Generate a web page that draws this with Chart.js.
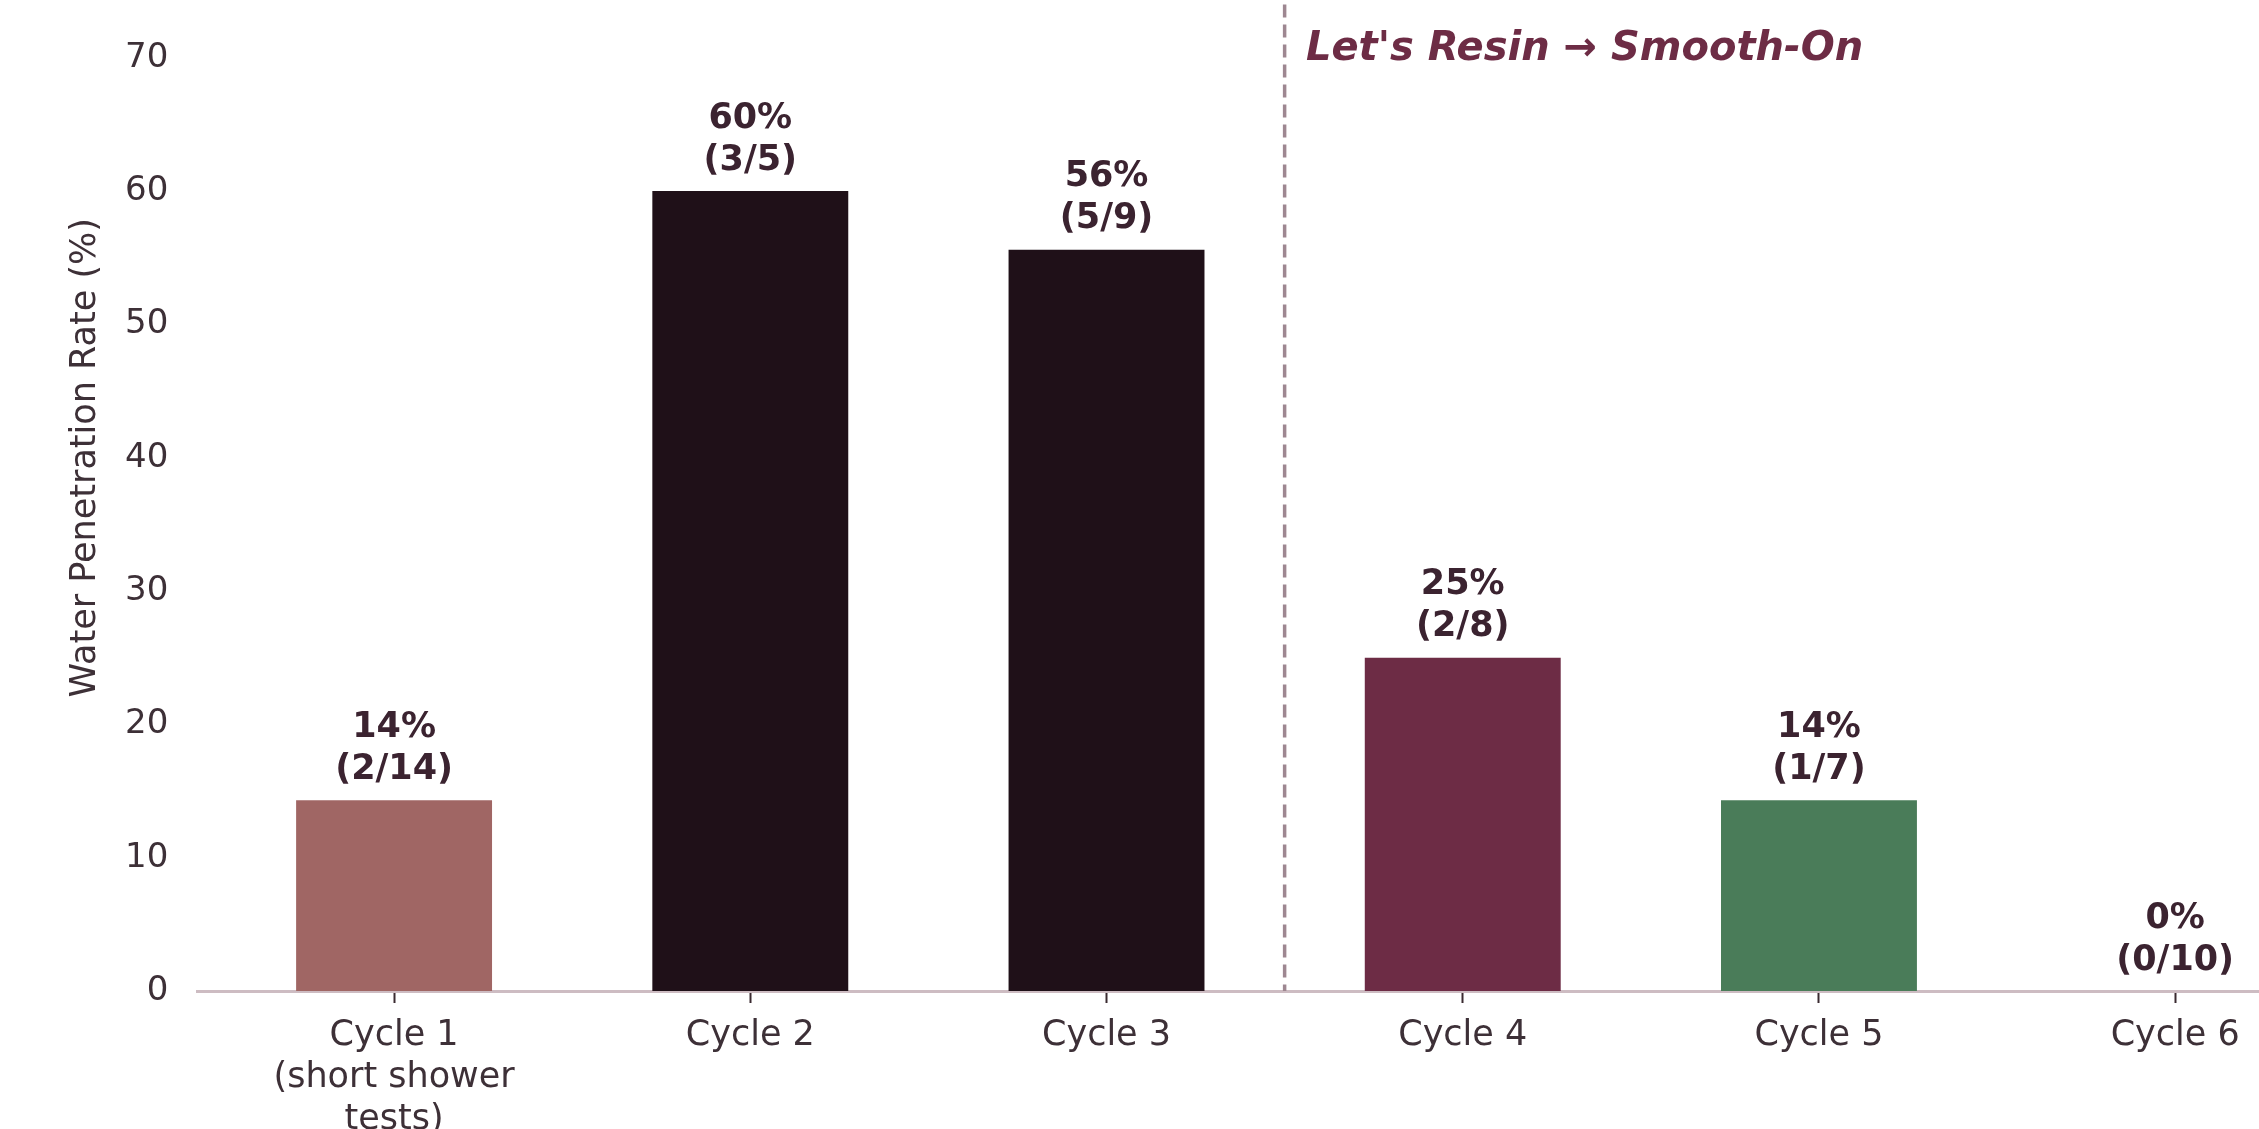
<!DOCTYPE html>
<html>
<head>
<meta charset="utf-8">
<script src="https://cdn.jsdelivr.net/npm/chart.js@4"></script>
<style>
    html, body { margin: 0; padding: 0; background: #ffffff; overflow: hidden; width: 2259px; height: 1129px; }
    #wrap { position: absolute; left: 0; top: -125px; width: 2400px; height: 1278px; }
</style>
</head>
<body>
<div id="wrap"><canvas id="chart"></canvas></div>
<script>
// Chart data
const cycleLabels = [['Cycle 1', '(short shower', 'tests)'], 'Cycle 2', 'Cycle 3', 'Cycle 4', 'Cycle 5', 'Cycle 6'];
const rates = [14.3, 60, 55.6, 25, 14.3, 0];
const leaks = [2, 3, 5, 2, 1, 0];
const tests = [14, 5, 9, 8, 7, 10];
const barColors = ['#a06664', '#1f1018', '#1f1018', '#6d2c45', '#4a7c59', '#4a7c59'];
const yTicks = [0, 10, 20, 30, 40, 50, 60, 70];
const dividerAt = 2.5;   // between Cycle 3 and Cycle 4
const phaseNote = "Let's Resin \u2192 Smooth-On";

const textColor = '#3d3037';

Chart.defaults.font.family = '"DejaVu Sans", sans-serif';
Chart.defaults.color = textColor;

// Divider line, value labels and the phase note
const annotations = {
    id: 'annotations',
    afterDatasetsDraw(chart) {
        const { ctx, chartArea, scales: { x, y } } = chart;
        ctx.save();

        const dx = x.getPixelForValue(dividerAt);
        ctx.strokeStyle = '#9e8791';
        ctx.lineWidth = 3.5;
        ctx.setLineDash([13, 7]);
        ctx.beginPath();
        ctx.moveTo(dx, chartArea.top);
        ctx.lineTo(dx, chartArea.bottom);
        ctx.stroke();
        ctx.setLineDash([]);

        ctx.font = 'bold 35px "DejaVu Sans"';
        ctx.fillStyle = '#3b2330';
        ctx.textAlign = 'center';
        ctx.textBaseline = 'bottom';
        rates.forEach((v, i) => {
            const px = x.getPixelForValue(i);
            const py = y.getPixelForValue(v) - 13;
            ctx.fillText(`(${leaks[i]}/${tests[i]})`, px, py);
            ctx.fillText(`${Math.round(v)}%`, px, py - 42);
        });

        ctx.font = 'italic bold 40px "DejaVu Sans"';
        ctx.fillStyle = '#6d2c45';
        ctx.textAlign = 'left';
        ctx.textBaseline = 'middle';
        ctx.fillText(phaseNote, x.getPixelForValue(dividerAt + 0.06), y.getPixelForValue(70.6));

        ctx.restore();
    }
};

new Chart(document.getElementById('chart').getContext('2d'), {
    type: 'bar',
    data: {
        datasets: [{
            data: rates.map((v, i) => ({ x: i, y: v })),
            backgroundColor: barColors,
            borderWidth: 0,
            categoryPercentage: 1,
            barPercentage: 0.55
        }]
    },
    options: {
        responsive: true,
        maintainAspectRatio: false,
        animation: false,
        layout: { padding: { left: 0, right: 28, top: 0, bottom: 0 } },
        plugins: {
            legend: { display: false },
            tooltip: { enabled: false }
        },
        scales: {
            x: {
                type: 'linear',
                offset: false,
                min: -0.5525,
                max: 5.5525,
                afterBuildTicks: scale => {
                    scale.ticks = cycleLabels.map((_, i) => ({ value: i }));
                },
                ticks: {
                    callback: value => cycleLabels[value],
                    font: { size: 35 },
                    color: textColor,
                    padding: 12,
                    maxRotation: 0,
                    autoSkip: false
                },
                grid: {
                    display: true,
                    offset: false,
                    drawOnChartArea: false,
                    drawTicks: true,
                    tickLength: 12,
                    tickColor: '#3a2a30',
                    tickWidth: 2
                },
                border: { display: true, color: '#cdbcc2', width: 3 }
            },
            y: {
                min: 0,
                max: 80,
                afterBuildTicks: scale => {
                    scale.ticks = yTicks.map(v => ({ value: v }));
                },
                ticks: {
                    font: { size: 34 },
                    color: textColor,
                    padding: 29
                },
                grid: { display: false, drawTicks: false },
                border: { display: false },
                title: {
                    display: true,
                    text: 'Water Penetration Rate (%)',
                    font: { size: 35 },
                    color: textColor,
                    padding: { top: 65, bottom: -11 }
                }
            }
        }
    },
    plugins: [annotations]
});
</script>
</body>
</html>
